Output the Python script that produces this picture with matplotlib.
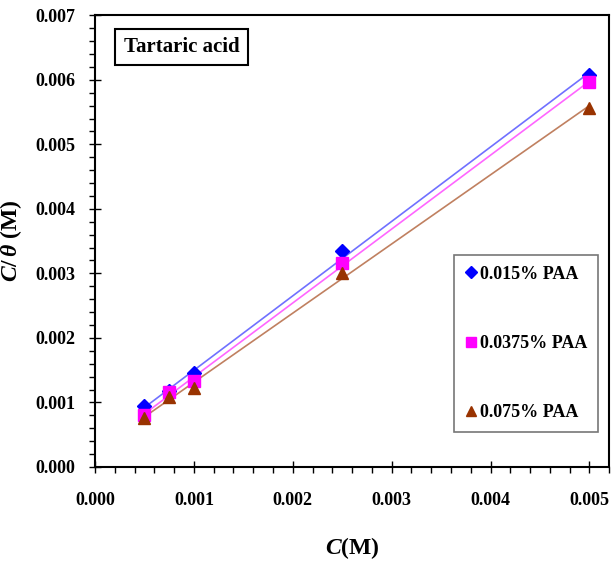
import numpy as np
import matplotlib.pyplot as plt
from matplotlib.ticker import MultipleLocator, FormatStrFormatter

# concentration (M)
conc = [0.0005, 0.00075, 0.001, 0.0025, 0.005]

# C/theta (M) for each PAA concentration
y_015 = [0.00094, 0.00117, 0.00145, 0.00334, 0.00607]
y_0375 = [0.00080, 0.00116, 0.00134, 0.00316, 0.00596]
y_075 = [0.00076, 0.00109, 0.00123, 0.00300, 0.00557]

labels = ["0.015% PAA", "0.0375% PAA", "0.075% PAA"]

plt.rcParams["font.family"] = ["Liberation Serif", "DejaVu Serif"]
plt.rcParams["font.weight"] = "bold"
plt.rcParams["mathtext.fontset"] = "custom"
plt.rcParams["mathtext.it"] = "Liberation Serif:italic:bold"
plt.rcParams["mathtext.rm"] = "Liberation Serif:bold"

fig = plt.figure(figsize=(6.11, 5.65), dpi=100)
ax = fig.add_axes([0.1555, 0.1735, 0.8415, 0.7995])

series = [
    (y_015, "D", "#0000ff", "#7070ff", 7),
    (y_0375, "s", "#ff00ff", "#ff66ff", 8),
    (y_075, "^", "#993300", "#c08060", 8),
]

x = np.array(conc)
for (ys, mk, mc, lc, ms), lab in zip(series, labels):
    k, b = np.polyfit(x, ys, 1)
    ax.plot([x[0], x[-1]], [k * x[0] + b, k * x[-1] + b], color=lc, lw=1.2, zorder=2)
    ax.plot(x, ys, ls="none", marker=mk, color=mc, ms=ms, label=lab, zorder=3)

ax.set_xlim(0, 0.0052)
ax.set_ylim(0, 0.007)
ax.xaxis.set_major_locator(MultipleLocator(0.001))
ax.xaxis.set_minor_locator(MultipleLocator(0.0002))
ax.yaxis.set_major_locator(MultipleLocator(0.001))
ax.yaxis.set_minor_locator(MultipleLocator(0.0002))
ax.xaxis.set_major_formatter(FormatStrFormatter("%.3f"))
ax.yaxis.set_major_formatter(FormatStrFormatter("%.3f"))
ax.tick_params(which="major", direction="inout", length=8, width=1, labelsize=13)
ax.tick_params(axis="x", which="major", pad=14)
ax.tick_params(axis="y", which="major", pad=10)
ax.tick_params(which="minor", direction="out", length=4, width=1)
for s in ax.spines.values():
    s.set_linewidth(1.5)

ax.set_xlabel(r"$C$(M)", fontsize=17, fontweight="bold", labelpad=19)
ax.set_ylabel(r"$C/\,\theta$ (M)", fontsize=17, fontweight="bold", labelpad=8)

ax.text(0.056, 0.93, "Tartaric acid", fontsize=15, fontweight="bold",
        ha="left", va="center", transform=ax.transAxes,
        bbox=dict(boxstyle="square,pad=0.4", fc="white", ec="black", lw=1.5))

leg = ax.legend(loc="lower right", bbox_to_anchor=(0.979, 0.077), fontsize=13,
                frameon=True, fancybox=False, edgecolor="#555555",
                labelspacing=2.9, handlelength=0.7, handletextpad=0.15,
                borderpad=0.6, markerscale=0.9, borderaxespad=0)
leg.get_frame().set_linewidth(1.2)

fig.savefig("out.png", dpi=100)
